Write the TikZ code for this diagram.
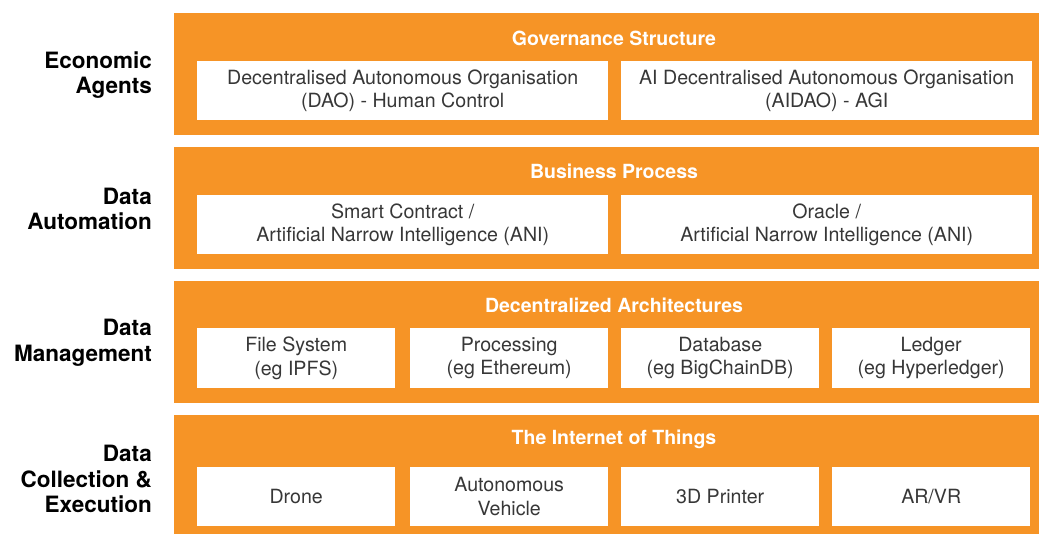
\documentclass[tikz,border=0pt]{standalone}
\usepackage{fontspec}
\setmainfont{TeX Gyre Heros}
\usepackage{xcolor}
\usepackage{tikz}

\definecolor{bandorange}{RGB}{246,148,38}
\definecolor{celltext}{RGB}{55,55,55}

\begin{document}
\begin{tikzpicture}[
	x=1pt, y=-1pt,
	band/.style={shape=rectangle, fill=bandorange, draw=none, anchor=north west, inner sep=0pt, minimum width=865pt},
	bandtitle/.style={text=white, font=\fontsize{19.5}{23}\selectfont\bfseries},
	cell/.style={shape=rectangle, fill=white, draw=none, anchor=north west, inner sep=0pt, minimum height=59pt, align=center, text=celltext, font=\fontsize{19.6}{23.5}\selectfont},
	widecell/.style={cell, minimum width=411pt},
	smallcell/.style={cell, minimum width=198pt},
	layer/.style={anchor=east, inner sep=0pt, align=right, text=black, font=\fontsize{22.5}{25.5}\selectfont\bfseries},
]
\useasboundingbox (0,0) rectangle (1039,534);

% layer bands
\node[band, minimum height=122pt] (gov) at (174,13) {};
\node[band, minimum height=122pt] (biz) at (174,147) {};
\node[band, minimum height=122pt] (arch) at (174,281) {};
\node[band, minimum height=119pt] (iot) at (174,415) {};

% band titles
\node[bandtitle] (govtitle) at (614,38) {Governance Structure};
\node[bandtitle] (biztitle) at (614,171) {Business Process};
\node[bandtitle] (archtitle) at (614,305) {Decentralized Architectures};
\node[bandtitle] (iottitle) at (614,439) {The Internet of Things};

% governance
\node[widecell] (dao) at (197,61) {Decentralised Autonomous Organisation\\(DAO) - Human Control};
\node[widecell] (aidao) at (621,61) {AI Decentralised Autonomous Organisation\\(AIDAO) - AGI};

% business process
\node[widecell] (contract) at (197,195) {Smart Contract /\\Artificial Narrow Intelligence (ANI)};
\node[widecell] (oracle) at (621,195) {Oracle /\\Artificial Narrow Intelligence (ANI)};

% architectures
\node[smallcell, minimum height=60pt] (files) at (197,328) {File System\\(eg IPFS)};
\node[smallcell, minimum height=60pt] (proc) at (410,328) {Processing\\(eg Ethereum)};
\node[smallcell, minimum height=60pt] (db) at (621,328) {Database\\(eg BigChainDB)};
\node[smallcell, minimum height=60pt] (ledger) at (832,328) {Ledger\\(eg Hyperledger)};

% things
\node[smallcell] (drone) at (197,467) {Drone};
\node[smallcell] (vehicle) at (410,467) {Autonomous\\Vehicle};
\node[smallcell] (printer) at (621,467) {3D Printer};
\node[smallcell] (arvr) at (832,467) {AR/VR};

% layer names
\node[layer] (agents) at (152,75) {Economic\\Agents};
\node[layer] (automation) at (152,209) {Data\\Automation};
\node[layer] (management) at (152,343) {Data\\Management};
\node[layer] (collection) at (152,479) {Data\\Collection \&\\Execution};
\end{tikzpicture}
\end{document}
